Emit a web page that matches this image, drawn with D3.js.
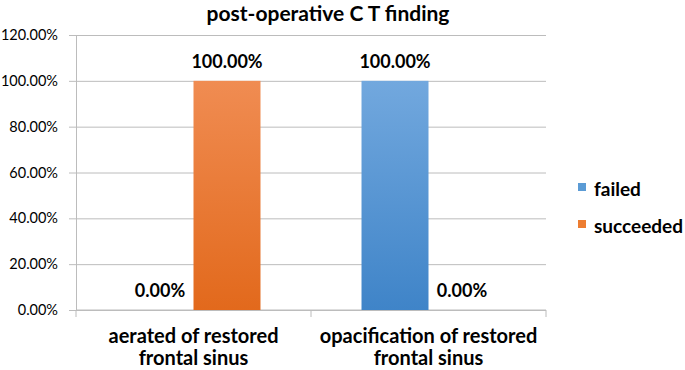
<!DOCTYPE html>
<html>
<head>
<meta charset="utf-8">
<script src="https://cdn.jsdelivr.net/npm/d3@7"></script>
<style>
  body { margin: 0; background: #fff; }
  svg { display: block; font-family: Lato, 'Open Sans', sans-serif; }
  .tick text { fill: #000; }
</style>
</head>
<body>
<div id="chart"></div>
<script>
const categories = ['aerated of restored|frontal sinus', 'opacification of restored|frontal sinus'];
const series = ['failed', 'succeeded'];
const failed = [0, 1];
const succeeded = [1, 0];
const yTicks = [0, 0.2, 0.4, 0.6, 0.8, 1.0, 1.2];

const width = 685;
const height = 370;
const plot = { left: 76, right: 546, top: 35, bottom: 310 };

const colors = {
  failed: ['#72a8de', '#3f84c8'],
  succeeded: ['#f08c52', '#e2691c'],
};
const legendColors = { failed: '#5b9bd5', succeeded: '#ed7d31' };

const rows = categories.map((c, i) => ({
  category: c,
  values: [
    { key: 'failed', value: failed[i] },
    { key: 'succeeded', value: succeeded[i] },
  ],
}));

const svg = d3.select('#chart')
  .append('svg')
  .attr('width', width)
  .attr('height', height);

const defs = svg.append('defs');
for (const s of series) {
  const g = defs.append('linearGradient')
    .attr('id', 'grad-' + s)
    .attr('x1', 0).attr('y1', 0).attr('x2', 0).attr('y2', 1);
  g.append('stop').attr('offset', '0%').attr('stop-color', colors[s][0]);
  g.append('stop').attr('offset', '100%').attr('stop-color', colors[s][1]);
}

const x0 = d3.scaleBand()
  .domain(categories)
  .range([plot.left, plot.right])
  .paddingInner(0);

const x1 = d3.scaleBand()
  .domain(series)
  .range([0, x0.bandwidth()])
  .paddingInner(0)
  .paddingOuter(0.754);

const y = d3.scaleLinear()
  .domain([0, 1.2])
  .range([plot.bottom, plot.top]);

const pct = d3.format('.2%');

// gridlines
svg.append('g')
  .attr('class', 'grid')
  .attr('transform', `translate(${plot.left},0)`)
  .call(d3.axisLeft(y).tickValues(yTicks).tickFormat('').tickSize(-(plot.right - plot.left)))
  .call(g => g.select('.domain').remove())
  .call(g => g.selectAll('line').attr('stroke', '#bcbcbc'));

// y axis
svg.append('g')
  .attr('transform', `translate(${plot.left},0)`)
  .call(d3.axisLeft(y).tickValues(yTicks).tickFormat(pct).tickSize(7).tickPadding(11))
  .call(g => g.select('.domain').attr('stroke', '#bcbcbc'))
  .call(g => g.selectAll('line').attr('stroke', '#bcbcbc'))
  .call(g => g.selectAll('text').attr('font-size', 14.5).attr('font-family', 'Lato, sans-serif'));

// x axis (category boundary ticks)
const xAxis = svg.append('g')
  .attr('transform', `translate(0,${plot.bottom})`);
xAxis.append('line')
  .attr('x1', plot.left).attr('x2', plot.right)
  .attr('stroke', '#bcbcbc');
const bounds = [plot.left, ...categories.map(c => x0(c) + x0.bandwidth())];
xAxis.selectAll('.bound')
  .data(bounds)
  .join('line')
  .attr('class', 'bound')
  .attr('x1', d => d).attr('x2', d => d)
  .attr('y1', 0).attr('y2', 7)
  .attr('stroke', '#bcbcbc');

xAxis.selectAll('text.cat')
  .data(categories)
  .join('text')
  .attr('class', 'cat')
  .attr('text-anchor', 'middle')
  .attr('font-size', 20)
  .attr('font-weight', 'bold')
  .attr('x', d => x0(d) + x0.bandwidth() / 2)
  .attr('y', 33)
  .selectAll('tspan')
  .data(d => d.split('|'))
  .join('tspan')
  .attr('x', function () { return d3.select(this.parentNode).attr('x'); })
  .attr('dy', (d, i) => i === 0 ? 0 : 22)
  .text(d => d);

// bars
const groups = svg.append('g')
  .selectAll('g')
  .data(rows)
  .join('g')
  .attr('transform', d => `translate(${x0(d.category)},0)`);

groups.selectAll('rect')
  .data(d => d.values)
  .join('rect')
  .attr('x', d => x1(d.key))
  .attr('width', x1.bandwidth())
  .attr('y', d => y(d.value))
  .attr('height', d => y(0) - y(d.value))
  .attr('fill', d => `url(#grad-${d.key})`);

groups.selectAll('text')
  .data(d => d.values)
  .join('text')
  .attr('x', d => x1(d.key) + x1.bandwidth() / 2)
  .attr('y', d => y(d.value) - 13)
  .attr('text-anchor', 'middle')
  .attr('font-size', 18)
  .attr('font-weight', 'bold')
  .text(d => pct(d.value));

// title
svg.append('text')
  .attr('x', 328)
  .attr('y', 21)
  .attr('text-anchor', 'middle')
  .attr('font-size', 21)
  .attr('font-weight', 'bold')
  .text('post-operative C T finding');

// legend
const legend = svg.append('g')
  .selectAll('g')
  .data(series)
  .join('g')
  .attr('transform', (d, i) => `translate(578,${183 + i * 37})`);
legend.append('rect')
  .attr('width', 8).attr('height', 8)
  .attr('fill', d => legendColors[d]);
legend.append('text')
  .attr('x', 16)
  .attr('y', 13)
  .attr('font-size', 19)
  .attr('font-weight', 'bold')
  .text(d => d);
</script>
</body>
</html>
